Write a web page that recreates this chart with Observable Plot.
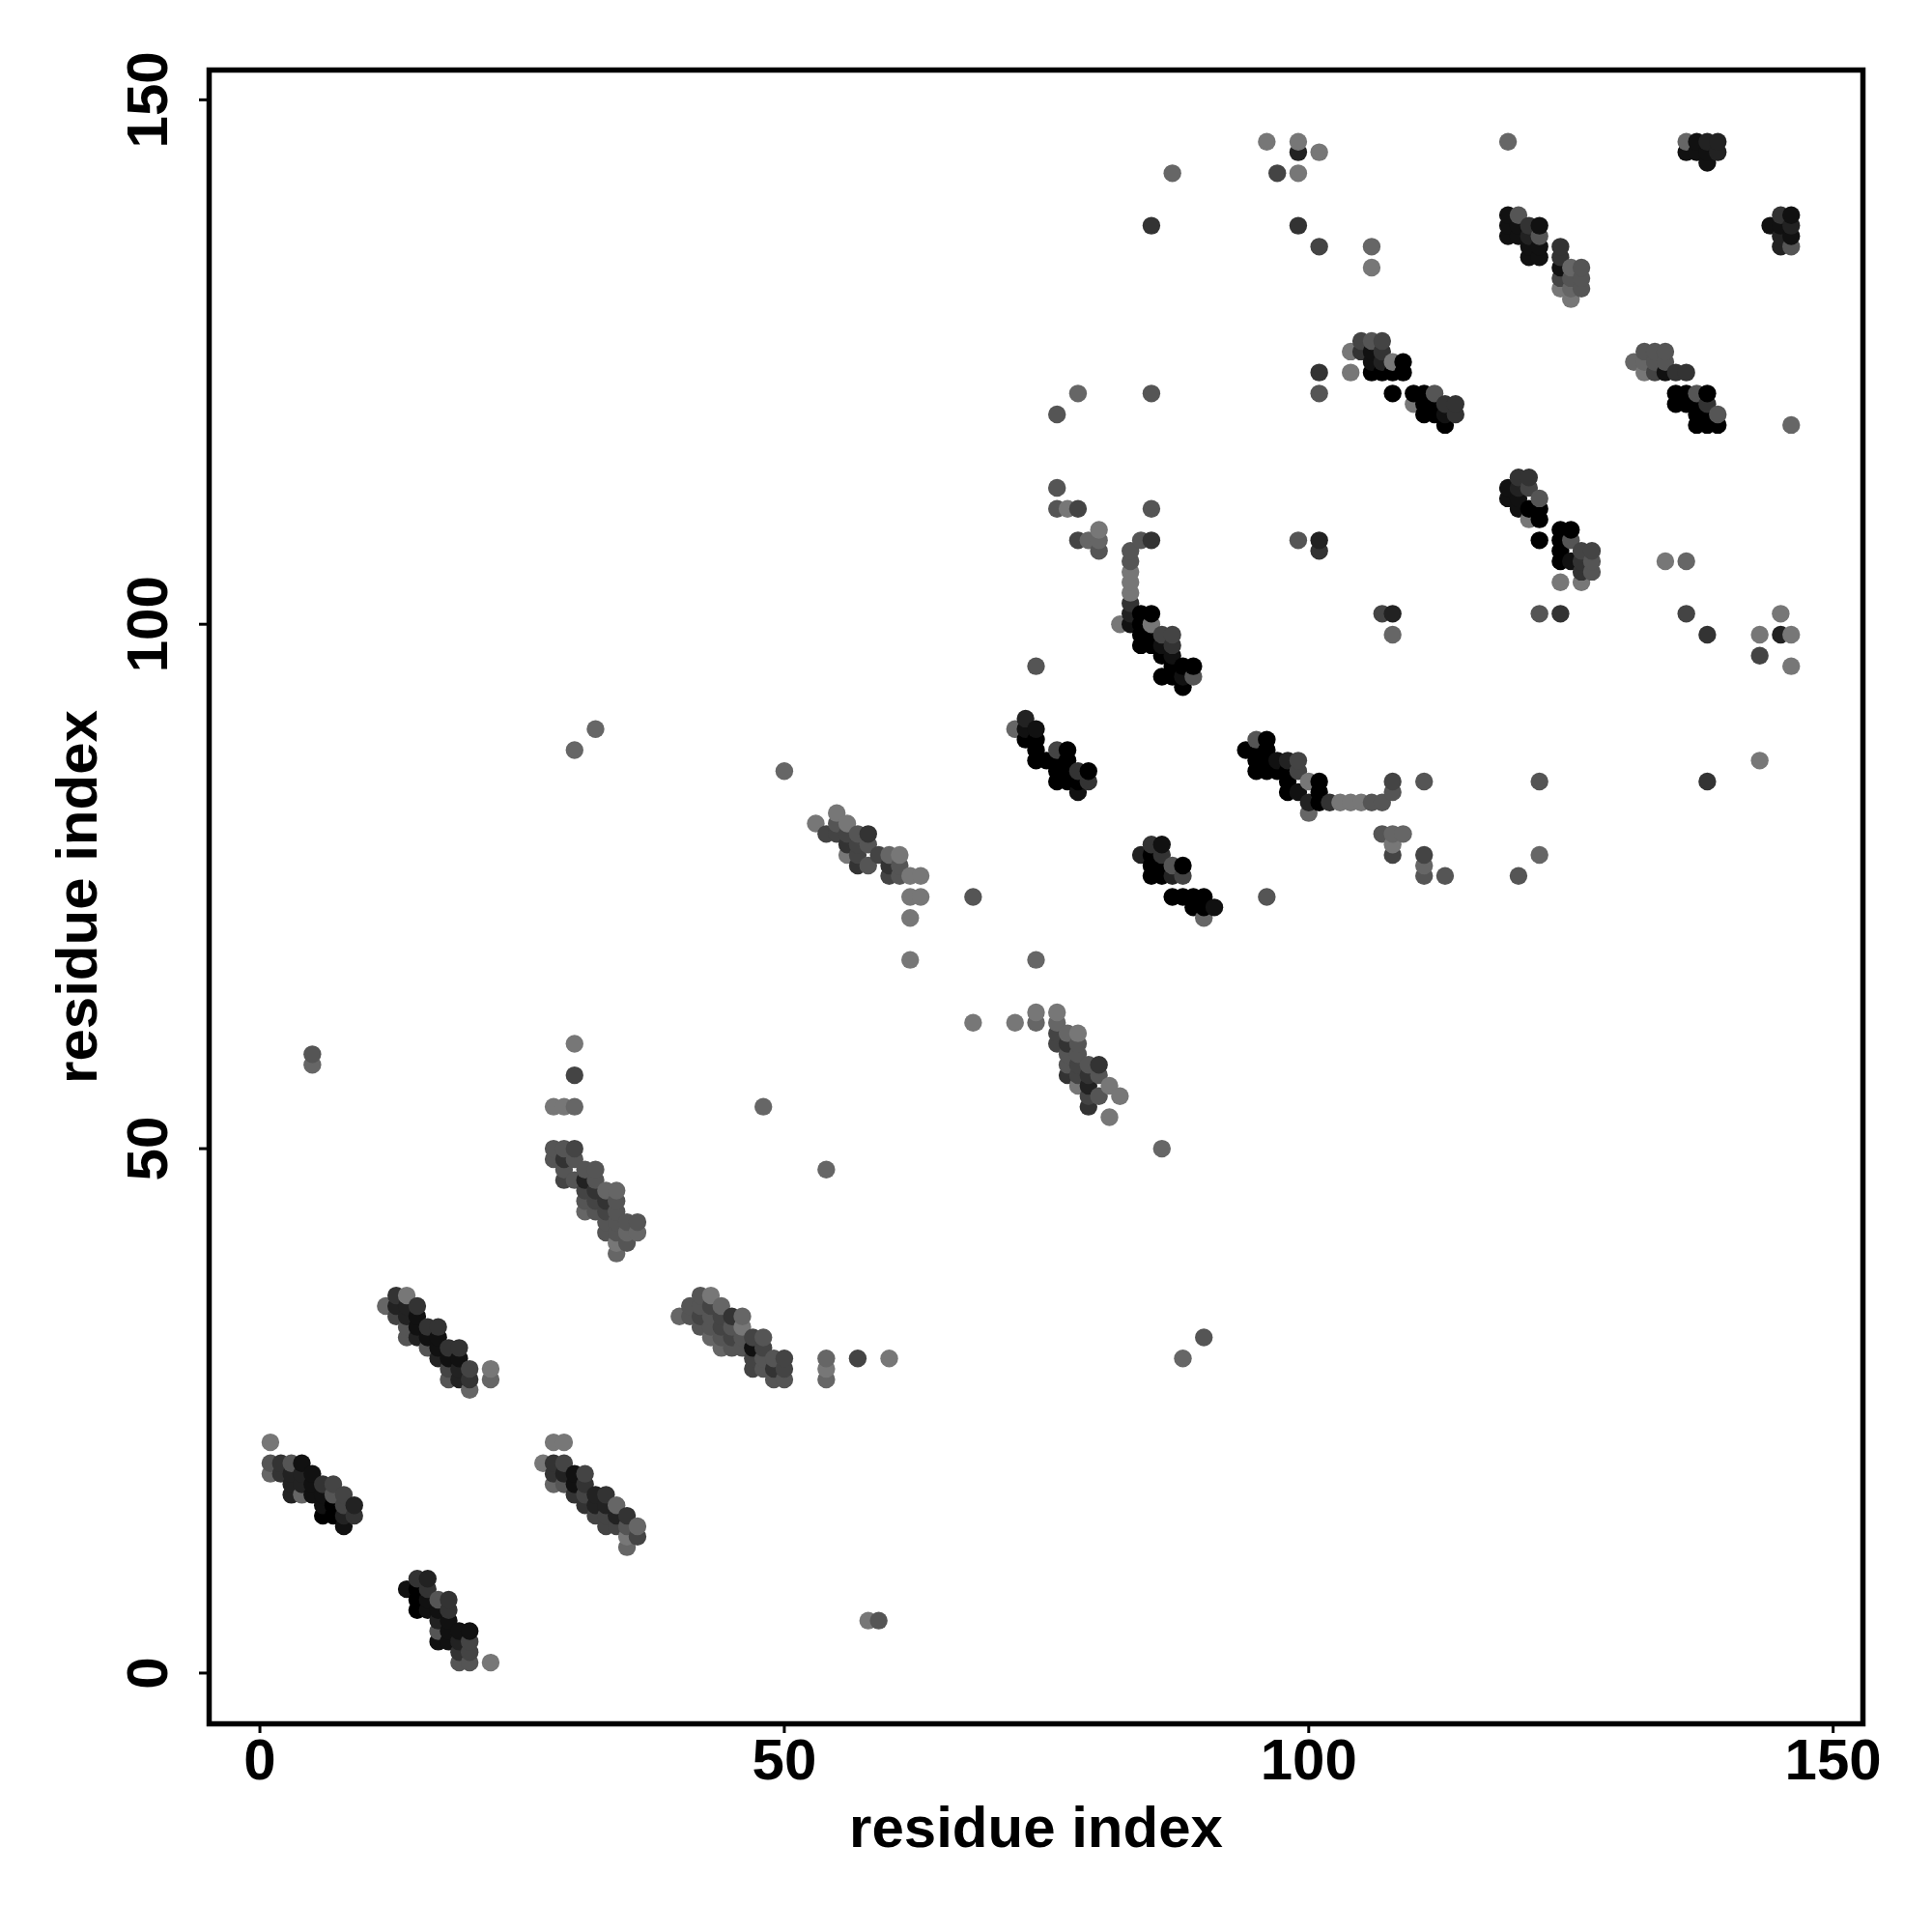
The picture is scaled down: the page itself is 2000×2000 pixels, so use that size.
<!DOCTYPE html>
<html><head><meta charset="utf-8">
<script src="https://cdn.jsdelivr.net/npm/d3@7"></script>
<script src="https://cdn.jsdelivr.net/npm/@observablehq/plot@0.6"></script>
<style>body{margin:0;background:#fff}</style>
</head><body><div id="chart"></div>
<script>
const xTicks = [0, 50, 100, 150];
const yTicks = [0, 50, 100, 150];
const xTitle = "residue index";
const yTitle = "residue index";

// contacts: [residue i, residue j, shade] ; shade 0 = black ... 7 = #777
const contactsLowLeft = [
  [1,22,7],[1,20,5],[2,20,3],[3,20,5],[4,20,1],
  [1,19,6],[2,19,3],[3,19,2],[4,19,2],[5,19,1],
  [3,18,2],[4,18,2],[5,18,1],[6,18,3],[7,18,4],
  [3,17,2],[4,17,6],[5,17,1],[6,17,1],[7,17,5],[8,17,4],
  [6,16,1],[7,16,0],[8,16,4],[9,16,2],
  [6,15,0],[7,15,0],[8,15,2],[9,15,3],[8,14,1],
  [13,36,3],[14,36,7],[12,35,6],[13,35,2],[14,35,2],[15,35,3],
  [13,34,4],[14,34,2],[15,34,1],
  [14,33,5],[15,33,1],[16,33,3],[17,33,3],
  [14,32,5],[15,32,2],[16,32,1],[17,32,1],
  [16,31,5],[17,31,1],[18,31,3],[19,31,3],
  [17,30,2],[18,30,1],[19,30,1],
  [18,29,4],[19,29,2],[20,29,4],[22,29,7],
  [18,28,5],[19,28,2],[20,28,3],[22,28,6],[20,27,6],
  [15,9,3],[16,9,2],[14,8,1],[15,8,0],[16,8,3],
  [15,7,0],[16,7,1],[17,7,5],[18,7,3],
  [15,6,0],[16,6,1],[17,6,1],[18,6,3],
  [17,5,2],[18,5,1],[17,4,5],[18,4,1],[19,4,1],[20,4,1],
  [17,3,1],[18,3,1],[19,3,2],[20,3,4],
  [19,2,3],[20,2,4],[19,1,5],[20,1,5],[22,1,7],
  [28,22,7],[29,22,7],[27,20,7],[28,20,3],[29,20,4],
  [28,19,3],[29,19,2],[30,19,1],[31,19,4],
  [28,18,6],[29,18,5],[30,18,1],[31,18,3],
  [30,17,3],[31,17,4],[32,17,2],[33,17,3],
  [31,16,3],[32,16,2],[33,16,2],[34,16,6],
  [32,15,4],[33,15,4],[34,15,2],[35,15,3],
  [33,14,4],[34,14,4],[35,14,5],[36,14,6],
  [35,13,7],[36,13,4],[35,12,6]
];

const contactsMidLeft = [
  [28,50,5],[29,50,5],[30,50,4],[28,49,5],[29,49,3],[30,49,5],
  [29,48,5],[31,48,5],[32,48,5],
  [29,47,4],[30,47,5],[31,47,2],[32,47,5],
  [31,46,4],[32,46,3],[33,46,6],[34,46,6],
  [31,45,5],[32,45,4],[33,45,3],[34,45,5],
  [31,44,6],[32,44,5],[33,44,4],[34,44,5],
  [33,43,5],[34,43,5],[35,43,5],[36,43,5],
  [33,42,5],[34,42,5],[35,42,6],[36,42,6],
  [34,41,7],[35,41,5],[34,40,6],
  [5,59,5],[5,58,6],[30,60,7],[30,57,4],[28,54,7],[29,54,7],[30,54,6],
  [30,88,6],[32,90,6],[48,54,6],[54,48,6],
  [42,36,5],[43,36,7],[41,35,5],[42,35,5],[43,35,4],[44,35,6],
  [40,34,6],[41,34,5],[42,34,4],[43,34,5],[44,34,4],[45,34,3],[46,34,6],
  [42,33,5],[43,33,5],[44,33,4],[45,33,5],[46,33,7],
  [43,32,6],[44,32,5],[45,32,4],[46,32,5],[47,32,4],[48,32,5],
  [44,31,6],[45,31,5],[46,31,5],[47,31,1],[48,31,4],
  [47,30,4],[48,30,5],[49,30,5],[50,30,4],
  [47,29,4],[48,29,5],[49,29,3],[50,29,4],[49,28,5],[50,28,5],
  [54,30,6],[54,29,7],[54,28,6],[57,30,4],[60,30,7],[58,5,7],[59,5,5],
  [88,30,6],[90,32,5]
];

const contactsCenter = [
  [55,82,7],[53,81,7],[55,81,5],[56,81,7],
  [54,80,4],[55,80,4],[56,80,4],[57,80,5],[58,80,3],
  [56,79,3],[57,79,4],[58,79,5],
  [56,78,7],[57,78,4],[59,78,4],[60,78,6],[61,78,7],
  [57,77,3],[58,77,5],[60,77,3],[61,77,5],
  [60,76,4],[61,76,5],[62,76,7],[63,76,7],[62,74,7],[63,74,7],
  [50,86,6],[68,74,5],[62,72,7],[62,68,7],[74,68,6],[68,62,7],[72,62,7],[74,63,7],[74,62,6],
  [76,63,7],[76,62,6],[76,61,4],[77,61,6],[78,61,7],
  [76,60,4],[77,60,3],[78,60,5],[77,59,5],[78,59,5],
  [77,58,5],[78,58,4],[79,58,5],[80,58,3],
  [77,57,3],[78,57,4],[79,57,3],[80,57,5],
  [78,56,7],[79,56,2],[81,56,7],
  [79,55,4],[80,55,5],[82,55,7],[79,54,3],[81,53,7],[86,50,6],
  [73,91,2],[72,90,6],[73,90,1],[74,90,1],[73,89,0],[74,89,0],
  [74,88,0],[76,88,4],[77,88,0],[74,87,0],[75,87,0],[76,87,0],[77,87,0],
  [76,86,0],[77,86,0],[78,86,3],[79,86,0],
  [76,85,0],[77,85,0],[78,85,0],[79,85,3],[78,84,1],[74,96,5],
  [85,79,3],[86,79,1],[84,78,2],[85,78,0],[86,78,3],
  [85,77,0],[86,77,0],[87,77,5],[88,77,0],
  [85,76,0],[86,76,0],[87,76,2],[88,76,4],
  [87,74,0],[88,74,0],[89,74,0],[90,74,0],[89,73,0],[90,73,0],[91,73,1],[90,72,6]
];

const contactsUpperMid = [
  [76,113,5],[76,111,5],[77,111,7],[78,111,4],[85,111,5],
  [78,108,4],[79,108,6],[80,109,7],[80,108,6],[80,107,5],[84,108,5],[85,108,3],
  [83,107,5],[83,106,5],[83,105,7],[83,104,7],[83,103,7],[83,102,3],[82,100,7],
  [83,101,2],[84,101,0],[85,101,0],[83,100,1],[84,100,0],[85,100,7],
  [84,99,0],[85,99,0],[86,99,4],[87,99,4],
  [84,98,0],[85,98,0],[86,98,1],[87,98,3],[86,97,0],[87,97,1],
  [87,96,0],[88,96,0],[89,96,0],[86,95,0],[87,95,0],[88,95,1],[89,95,5],[88,94,0],
  [95,89,5],[96,89,0],[94,88,0],[95,88,0],[96,88,0],
  [95,87,0],[96,87,0],[97,87,1],[98,87,2],[99,87,4],
  [95,86,0],[96,86,0],[97,86,0],[98,86,0],[99,86,4],
  [98,85,0],[100,85,7],[101,85,0],[98,84,0],[99,84,1],[101,84,0],
  [100,83,2],[101,83,0],[102,83,3],[103,83,7],[104,83,7],[105,83,7],[106,83,5],[107,83,5],
  [100,82,6],[108,84,5],[108,85,4],[111,85,5],
  [107,80,5],[108,80,6],[109,80,6],[108,79,7],[108,78,4],
  [111,78,4],[111,77,6],[111,76,5],[113,76,5],[96,74,5],
  [107,101,4],[108,101,2],[108,99,6],[99,108,5],[101,108,2],[101,107,3]
];

const contactsTop = [
  [105,127,4],[106,127,5],[107,127,4],
  [104,126,7],[105,126,3],[106,126,1],[107,126,3],
  [106,125,1],[107,125,2],[108,125,7],[109,125,0],
  [104,124,7],[106,124,0],[107,124,0],[108,124,0],[109,124,0],
  [101,124,3],[101,122,5],
  [108,122,0],[110,122,0],[111,122,0],[112,122,5],
  [110,121,7],[111,121,0],[112,121,0],[113,121,3],[114,121,3],
  [111,120,0],[112,120,0],[113,120,1],[114,120,3],[113,119,0],
  [78,122,6],[85,122,5],[76,120,5],
  [96,146,7],[99,146,7],[99,145,2],[101,145,7],[87,143,6],[97,143,4],[99,143,7],
  [85,138,3],[99,138,3],[101,136,4],[106,136,6],[106,134,7],[119,146,6]
];

const contactsRight = [
  [119,139,1],[120,139,5],[119,138,1],[120,138,1],[121,138,3],[122,138,1],
  [119,137,1],[120,137,1],[121,137,2],[122,137,5],
  [121,136,1],[122,136,1],[121,135,1],[122,135,1],
  [124,136,3],[124,135,3],[124,134,1],[124,133,4],[124,132,7],
  [125,134,6],[125,133,5],[125,132,6],[125,131,7],
  [126,134,5],[126,133,5],[126,132,5],
  [136,146,6],[137,146,1],[138,146,2],[139,146,2],
  [136,145,1],[137,145,1],[138,145,1],[139,145,2],[138,144,1],
  [145,139,3],[146,139,1],[144,138,1],[145,138,1],[146,138,2],
  [145,137,2],[146,137,1],[145,136,2],[146,136,5],
  [132,126,5],[133,126,5],[134,126,5],
  [131,125,6],[132,125,6],[133,125,5],[134,125,5],
  [132,124,7],[133,124,4],[134,124,1],[135,124,3],[136,124,3],
  [135,122,0],[136,122,0],[137,122,5],[138,122,0],
  [135,121,0],[136,121,0],[137,121,0],[138,121,3],
  [137,120,0],[138,120,0],[139,120,5],
  [137,119,0],[138,119,0],[139,119,0],[146,119,6],
  [120,114,3],[121,114,3],[119,113,1],[120,113,2],[121,113,4],
  [119,112,1],[120,112,1],[122,112,5],
  [120,111,1],[121,111,0],[122,111,0],[121,110,7],[122,110,0],[122,108,0],
  [124,109,0],[125,109,0],[124,108,0],[125,108,5],
  [124,107,0],[126,107,4],[127,107,4],
  [124,106,0],[125,106,1],[126,106,3],[127,106,5],
  [126,105,3],[127,105,5],[124,104,7],[126,104,7],
  [134,106,7],[136,106,6],[122,101,5],[124,101,3],[136,101,4],[138,99,3],
  [145,101,7],[143,99,7],[145,99,2],[146,99,7],[143,97,4],[146,96,7],[143,87,7],
  [122,85,5],[138,85,3],[122,78,6],[120,76,5]
];

const contacts = [
  ...contactsLowLeft, ...contactsMidLeft, ...contactsCenter,
  ...contactsUpperMid, ...contactsTop, ...contactsRight
].map(([i, j, s]) => ({i, j, s}))
 .sort((a, b) => a.i - b.i || a.j - b.j);

const font = "'Liberation Sans', Arial, Helvetica, sans-serif";
const textStyle = {fontSize: 60, fontWeight: "bold", fontFamily: font, fill: "black"};

const chart = Plot.plot({
  width: 2000,
  height: 2000,
  marginLeft: 216,
  marginRight: 72,
  marginTop: 72,
  marginBottom: 216,
  x: {domain: [-4.84, 152.84]},
  y: {domain: [-4.84, 152.84]},
  color: {type: "linear", domain: [0, 15], range: ["#000000", "#ffffff"], interpolate: "rgb"},
  style: {fontFamily: font, background: "white"},
  marks: [
    Plot.dot(contacts, {x: "i", y: "j", fill: "s", r: 9.2}),
    Plot.frame({stroke: "black", strokeWidth: 5.5}),
    Plot.axisX(xTicks, {tickSize: 10, strokeWidth: 3, stroke: "black", fill: "none", label: null}),
    Plot.axisY(yTicks, {tickSize: 10, strokeWidth: 3, stroke: "black", fill: "none", label: null}),
    Plot.text(xTicks, {x: d => d, text: d => String(d), frameAnchor: "bottom", dy: 57, lineAnchor: "bottom", textAnchor: "middle", ...textStyle}),
    Plot.text(yTicks, {y: d => d, text: d => String(d), frameAnchor: "left", dx: -44, rotate: -90, lineAnchor: "bottom", textAnchor: "middle", ...textStyle}),
    Plot.text([xTitle], {text: d => d, frameAnchor: "bottom", dy: 127, lineAnchor: "bottom", textAnchor: "middle", ...textStyle}),
    Plot.text([yTitle], {text: d => d, frameAnchor: "left", dx: -117, rotate: -90, lineAnchor: "bottom", textAnchor: "middle", ...textStyle})
  ]
});
document.getElementById("chart").appendChild(chart);
</script>
</body></html>
